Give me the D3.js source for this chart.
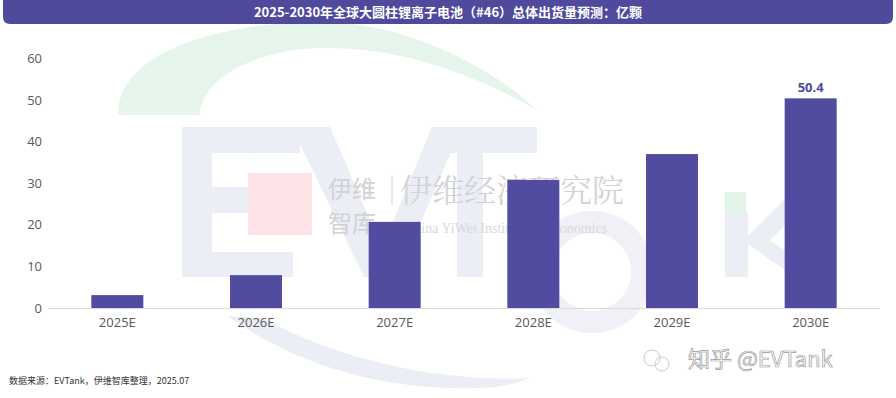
<!DOCTYPE html>
<html>
<head>
<meta charset="utf-8">
<script src="https://cdn.jsdelivr.net/npm/d3@7"></script>
<style>
  body{margin:0;background:#fff;}
  svg{display:block;font-family:"Noto Sans CJK SC","Noto Sans",sans-serif;}
</style>
</head>
<body>
<div id="chart"></div>
<script>
// data
var years = ["2025E","2026E","2027E","2028E","2029E","2030E"];
var shipments = [3.1, 7.9, 20.7, 30.8, 37.0, 50.4];
var yTicks = [0,10,20,30,40,50,60];
var labelShown = ["2030E"];
var titleText = "2025-2030年全球大圆柱锂离子电池（#46）总体出货量预测：亿颗";
var sourceText = "数据来源：EVTank，伊维智库整理，2025.07";

var W = 896, H = 398;
var svg = d3.select("#chart").append("svg").attr("width",W).attr("height",H);

// ---- watermark (background logo) ----
var wm = svg.append("g");
// green arc
wm.append("path")
  .attr("d","M118,115 C118,45 240,20 330,22 C420,26 500,75 537,110 C470,72 400,48 325,48 C255,48 200,80 200,115 Z")
  .attr("fill","#e6f5ec");
// gray lower arc
wm.append("path")
  .attr("d","M228,316 C290,362 380,392 480,388 C500,387 520,383 530,378 C450,382 350,365 262,318 Z")
  .attr("fill","#eceef5");
// big E V T k
var lg = "#eceef5";
wm.append("path").attr("fill",lg)
  .attr("d","M182,127 H300 V153 H212 V187 H282 V213 H212 V252 H293 V277 H182 Z");
wm.append("path").attr("fill",lg)
  .attr("d","M292,127 H330 L382,248 L432,127 H462 L397,277 H364 Z");
wm.append("path").attr("fill",lg)
  .attr("d","M433,127 H537 V153 H483 V277 H457 V153 H433 Z");
wm.append("circle").attr("cx",592).attr("cy",272).attr("r",50)
  .attr("fill","none").attr("stroke","#f0f1f6").attr("stroke-width",22);
wm.append("path").attr("fill",lg)
  .attr("d","M725,212 H748 V236 L792,192 H820 L770,240 L822,277 H795 L748,244 V277 H725 Z");
wm.append("rect").attr("x",725).attr("y",192).attr("width",21).attr("height",20).attr("fill","#e2f5e8");
// pink square + yiwei text
wm.append("rect").attr("x",248).attr("y",173).attr("width",64).attr("height",62).attr("fill","#fbe3e6");
wm.append("text").attr("x",328).attr("y",198).attr("font-size",24).attr("fill","#d2d2d6").text("伊维");
wm.append("text").attr("x",328).attr("y",232).attr("font-size",24).attr("fill","#d2d2d6").text("智库");
wm.append("line").attr("x1",392).attr("x2",392).attr("y1",175).attr("y2",205).attr("stroke","#d6d6da");
wm.append("text").attr("x",400).attr("y",202).attr("font-size",32)
  .attr("font-family","'Noto Serif CJK SC','Noto Sans CJK SC',serif").attr("fill","#d4d4d8").text("伊维经济研究院");
wm.append("text").attr("x",405).attr("y",233).attr("font-size",14)
  .attr("font-family","'Liberation Serif',serif").attr("fill","#d8d8dc").text("China YiWei Institute of Economics");

// ---- title bar ----
svg.append("path")
  .attr("d","M3,0 H893 V17 Q893,24 886,24 H10 Q3,24 3,17 Z")
  .attr("fill","#4f4a9c");
svg.append("text").attr("x",W/2).attr("y",17).attr("text-anchor","middle")
  .attr("font-size",13).attr("font-weight","bold").attr("fill","#fff").text(titleText);

// ---- scales ----
var x = d3.scaleBand().domain(years).range([48,880]).paddingInner(0.625).paddingOuter(0.3125);
var y = d3.scaleLinear().domain([0,60]).range([308,58.4]);

// y axis
var yAxis = svg.append("g").attr("transform","translate(42,0)")
  .call(d3.axisLeft(y).tickValues(yTicks).tickSize(0).tickPadding(0));
yAxis.select(".domain").remove();
yAxis.selectAll("text").attr("font-size",13).attr("fill","#595959")
  .attr("font-family","'Open Sans','Noto Sans',sans-serif");

// baseline
svg.append("line").attr("x1",48).attr("x2",880).attr("y1",y(0)+0.5).attr("y2",y(0)+0.5)
  .attr("stroke","#d9d9d9").attr("stroke-width",1);

// bars
svg.selectAll(".bar").data(years).enter().append("rect")
  .attr("class","bar")
  .attr("x",function(d){return x(d);})
  .attr("width",x.bandwidth())
  .attr("y",function(d,i){return y(shipments[i]);})
  .attr("height",function(d,i){return y(0)-y(shipments[i]);})
  .attr("fill","#514c9f");

// value label
svg.selectAll(".vlab").data(years.filter(function(d){return labelShown.indexOf(d)>=0;})).enter().append("text")
  .attr("x",function(d){return x(d)+x.bandwidth()/2;})
  .attr("y",function(d){return y(shipments[years.indexOf(d)])-6;})
  .attr("text-anchor","middle").attr("font-size",13).attr("font-weight","bold")
  .attr("font-family","'Open Sans','Noto Sans',sans-serif")
  .attr("fill","#4f4a9c")
  .text(function(d){return shipments[years.indexOf(d)].toFixed(1);});

// x axis
var xAxis = svg.append("g").attr("transform","translate(0,"+y(0)+")")
  .call(d3.axisBottom(x).tickSize(0).tickPadding(10));
xAxis.select(".domain").remove();
xAxis.selectAll("text").attr("font-size",13).attr("fill","#595959")
  .attr("font-family","'Open Sans','Noto Sans',sans-serif");

// source
svg.append("text").attr("x",9).attr("y",384).attr("font-size",9).attr("fill","#333")
  .text(sourceText);

// zhihu watermark
var zh = svg.append("g");
zh.append("rect").attr("x",630).attr("y",335).attr("width",266).attr("height",55)
  .attr("fill","#fff").attr("opacity",0.75);
zh.append("circle").attr("cx",652).attr("cy",358).attr("r",8).attr("fill","none").attr("stroke","#ccc");
zh.append("circle").attr("cx",662).attr("cy",364).attr("r",7).attr("fill","none").attr("stroke","#ccc");
zh.append("text").attr("x",688).attr("y",367).attr("font-size",22)
  .attr("fill","#fff").attr("stroke","#9a9a9a").attr("stroke-width",0.7)
  .text("知乎 @EVTank");
</script>
</body>
</html>
